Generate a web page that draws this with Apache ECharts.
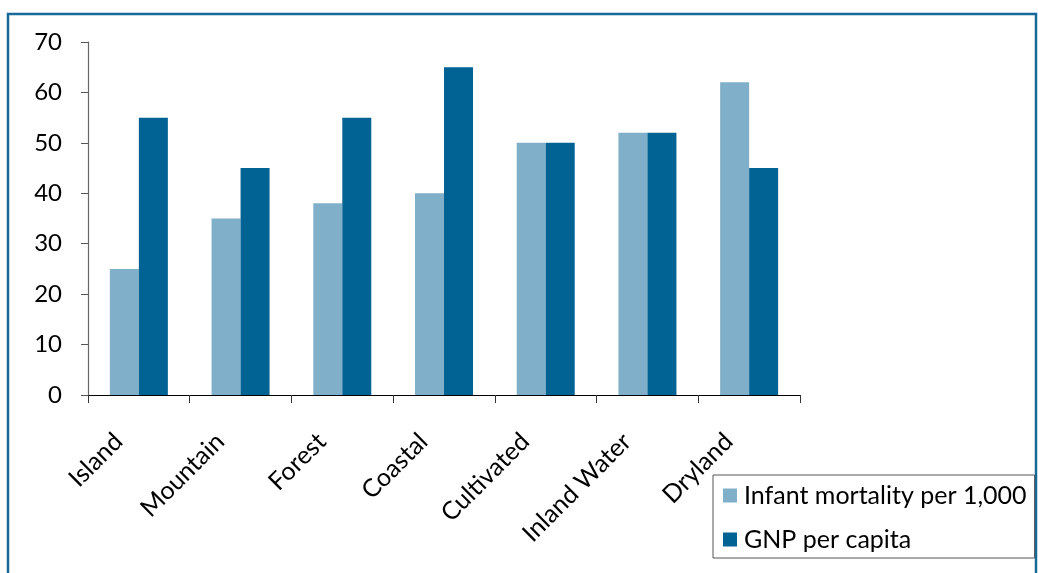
<!DOCTYPE html>
<html>
<head>
<meta charset="utf-8">
<script src="https://cdn.jsdelivr.net/npm/echarts@6/dist/echarts.min.js"></script>
<style>
  html, body { margin: 0; padding: 0; background: #ffffff; }
  #chart { width: 1038px; height: 573px; }
</style>
</head>
<body>
<div id="chart"></div>
<script>
// Ecosystem categories along the x axis
const categories = ['Island', 'Mountain', 'Forest', 'Coastal', 'Cultivated', 'Inland Water', 'Dryland'];
// Series values per category
const infantMortality = [25, 35, 38, 40, 50, 52, 62];
const gnpPerCapita = [55, 45, 55, 65, 50, 52, 45];
const seriesNames = ['Infant mortality per 1,000', 'GNP per capita'];
// Value axis range
const yMin = 0, yMax = 70, yStep = 10;

const FONT = 'Lato';
const LIGHT = '#80AFC9';
const DARK = '#006394';

const chart = echarts.init(document.getElementById('chart'), null, { renderer: 'canvas' });

chart.setOption({
  animation: false,
  backgroundColor: '#ffffff',
  textStyle: { fontFamily: FONT, color: '#000' },
  grid: { left: 88, top: 42, right: 238, bottom: 178, containLabel: false },
  graphic: [{
    type: 'polyline',
    shape: { points: [[8, 600], [8, 14], [1036, 14], [1036, 600]] },
    style: { stroke: '#17699A', lineWidth: 2.5, fill: null },
    silent: true
  }],
  legend: {
    orient: 'vertical',
    left: 713,
    top: 475,
    padding: [8, 8, 6, 10],
    itemGap: 19,
    itemWidth: 14,
    itemHeight: 14,
    icon: 'rect',
    borderColor: '#555',
    borderWidth: 1,
    textStyle: { fontFamily: FONT, fontSize: 25, color: '#000', padding: [0, 0, 0, 2] },
    data: seriesNames
  },
  xAxis: {
    type: 'category',
    data: categories,
    axisLine: { lineStyle: { color: '#000', width: 1.2 } },
    axisTick: { show: true, length: 8, lineStyle: { color: '#333' } },
    axisLabel: {
      rotate: 45,
      interval: 0,
      margin: 22,
      padding: [0, 29, 0, 0],
      fontFamily: FONT,
      fontSize: 25,
      color: '#000'
    },
    splitLine: { show: false }
  },
  yAxis: {
    type: 'value',
    min: yMin,
    max: yMax,
    interval: yStep,
    axisLine: { show: true, lineStyle: { color: '#666', width: 1.2 } },
    axisTick: { show: true, length: 7, lineStyle: { color: '#555' } },
    axisLabel: { margin: 26, fontFamily: FONT, fontSize: 24, color: '#000' },
    splitLine: { show: false }
  },
  series: [
    {
      name: seriesNames[0],
      type: 'bar',
      data: infantMortality,
      barWidth: 29,
      barGap: '0%',
      itemStyle: { color: LIGHT }
    },
    {
      name: seriesNames[1],
      type: 'bar',
      data: gnpPerCapita,
      barWidth: 29,
      barGap: '0%',
      itemStyle: { color: DARK }
    }
  ]
});
</script>
</body>
</html>
